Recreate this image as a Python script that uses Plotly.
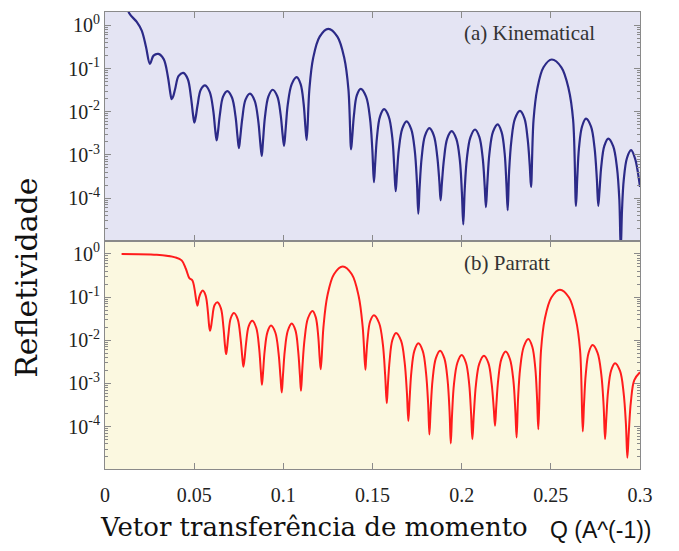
import numpy as np
import plotly.graph_objects as go

# ---------------- data ----------------
# Q in 1/Angstrom, reflectivity given as log10(R)
kin_q = [0.0115, 0.0136, 0.0178, 0.0206, 0.0230, 0.0252, 0.0272,
         0.0299, 0.0329, 0.0352, 0.0365, 0.0374, 0.0382, 0.0394, 0.0413,
         0.0439, 0.0464, 0.0482, 0.0494, 0.0501, 0.0508, 0.0519, 0.0537,
         0.0561, 0.0587, 0.0607, 0.0618, 0.0626, 0.0633, 0.0644, 0.0662,
         0.0686, 0.0712, 0.0732, 0.0743, 0.0751, 0.0758, 0.0770, 0.0788,
         0.0813, 0.0839, 0.0859, 0.0871, 0.0879, 0.0886, 0.0897, 0.0916,
         0.0940, 0.0966, 0.0985, 0.0996, 0.1004, 0.1013, 0.1025, 0.1047,
         0.1075, 0.1097, 0.1114, 0.1124, 0.1131, 0.1146, 0.1167, 0.1204,
         0.1252, 0.1303, 0.1342, 0.1365, 0.1380, 0.1386, 0.1396, 0.1412,
         0.1434, 0.1464, 0.1486, 0.1499, 0.1508, 0.1515, 0.1525, 0.1542,
         0.1565, 0.1591, 0.1611, 0.1622, 0.1630, 0.1637, 0.1648, 0.1667,
         0.1691, 0.1717, 0.1737, 0.1749, 0.1757, 0.1764, 0.1776, 0.1794,
         0.1819, 0.1844, 0.1863, 0.1875, 0.1882, 0.1889, 0.1901, 0.1919,
         0.1944, 0.1970, 0.1990, 0.2001, 0.2009, 0.2017, 0.2029, 0.2049,
         0.2075, 0.2099, 0.2118, 0.2129, 0.2136, 0.2144, 0.2156, 0.2176,
         0.2202, 0.2224, 0.2241, 0.2251, 0.2258, 0.2266, 0.2279, 0.2299,
         0.2327, 0.2352, 0.2370, 0.2382, 0.2389, 0.2403, 0.2424, 0.2459,
         0.2505, 0.2559, 0.2600, 0.2625, 0.2641, 0.2648, 0.2658, 0.2675,
         0.2697, 0.2725, 0.2745, 0.2758, 0.2766, 0.2773, 0.2783, 0.2800,
         0.2822, 0.2850, 0.2871, 0.2884, 0.2892, 0.2899, 0.2909, 0.2927,
         0.2950, 0.2972, 0.3000]
kin_log10R = [0.60, 0.28, 0.08, -0.12, -0.50, -0.89, -0.70,
              -0.66, -0.78, -1.17, -1.53, -1.71, -1.65, -1.46, -1.17,
              -1.10, -1.24, -1.66, -2.08, -2.25, -2.14, -1.85, -1.49,
              -1.39, -1.54, -1.97, -2.42, -2.66, -2.48, -2.07, -1.65,
              -1.52, -1.67, -2.11, -2.57, -2.84, -2.61, -2.15, -1.72,
              -1.58, -1.74, -2.20, -2.73, -3.02, -2.68, -2.12, -1.65,
              -1.49, -1.64, -2.07, -2.53, -2.79, -2.40, -1.83, -1.36,
              -1.20, -1.36, -1.82, -2.36, -2.65, -1.48, -0.76, -0.26,
              -0.08, -0.26, -0.76, -1.48, -2.87, -2.60, -2.08, -1.62,
              -1.47, -1.65, -2.15, -2.87, -3.63, -3.19, -2.59, -2.11,
              -1.94, -2.11, -2.60, -3.29, -3.84, -3.44, -2.86, -2.39,
              -2.22, -2.40, -2.90, -3.62, -4.36, -3.76, -3.05, -2.56,
              -2.38, -2.55, -3.03, -3.62, -4.05, -3.66, -3.09, -2.62,
              -2.45, -2.63, -3.13, -3.85, -4.61, -3.81, -3.09, -2.59,
              -2.41, -2.58, -3.07, -3.71, -4.21, -3.65, -2.95, -2.46,
              -2.29, -2.47, -2.96, -3.67, -4.28, -3.38, -2.66, -2.16,
              -1.98, -2.15, -2.63, -3.26, -3.74, -2.19, -1.47, -0.97,
              -0.79, -0.97, -1.47, -2.19, -4.18, -3.55, -2.83, -2.34,
              -2.16, -2.34, -2.83, -3.55, -4.18, -3.82, -3.26, -2.79,
              -2.62, -2.80, -3.30, -4.02, -5.20, -4.29, -3.57, -3.07,
              -2.89, -3.08, -3.74]

par_q = [0.0093, 0.0290, 0.0393, 0.0430, 0.0454, 0.0473, 0.0491,
         0.0518, 0.0527, 0.0536,
         0.0548, 0.0564, 0.0577, 0.0584, 0.0589, 0.0594, 0.0601, 0.0614,
         0.0630, 0.0650, 0.0664, 0.0673, 0.0679, 0.0684, 0.0692, 0.0705,
         0.0723, 0.0744, 0.0760, 0.0770, 0.0776, 0.0782, 0.0791, 0.0806,
         0.0826, 0.0848, 0.0864, 0.0874, 0.0880, 0.0886, 0.0895, 0.0911,
         0.0931, 0.0955, 0.0973, 0.0984, 0.0991, 0.0998, 0.1008, 0.1025,
         0.1047, 0.1068, 0.1083, 0.1093, 0.1099, 0.1107, 0.1119, 0.1138,
         0.1164, 0.1182, 0.1196, 0.1204, 0.1210, 0.1225, 0.1247, 0.1284,
         0.1333, 0.1384, 0.1422, 0.1445, 0.1460, 0.1464, 0.1472, 0.1487,
         0.1508, 0.1537, 0.1558, 0.1571, 0.1580, 0.1586, 0.1596, 0.1611,
         0.1632, 0.1660, 0.1680, 0.1693, 0.1701, 0.1708, 0.1718, 0.1735,
         0.1757, 0.1782, 0.1800, 0.1812, 0.1819, 0.1826, 0.1837, 0.1855,
         0.1879, 0.1903, 0.1921, 0.1932, 0.1939, 0.1946, 0.1957, 0.1976,
         0.2000, 0.2024, 0.2042, 0.2053, 0.2060, 0.2068, 0.2080, 0.2099,
         0.2125, 0.2150, 0.2168, 0.2180, 0.2187, 0.2194, 0.2205, 0.2223,
         0.2247, 0.2271, 0.2290, 0.2301, 0.2308, 0.2316, 0.2328, 0.2348,
         0.2374, 0.2396, 0.2413, 0.2423, 0.2430, 0.2445, 0.2466, 0.2503,
         0.2551, 0.2602, 0.2640, 0.2664, 0.2679, 0.2686, 0.2696, 0.2712,
         0.2734, 0.2762, 0.2783, 0.2796, 0.2804, 0.2811, 0.2821, 0.2838,
         0.2860, 0.2888, 0.2908, 0.2921, 0.2929, 0.2937, 0.2949, 0.2968,
         0.3000]
par_log10R = [0.00, -0.02, -0.08, -0.15, -0.35, -0.56, -0.62,
              -1.20, -1.02, -0.91,
              -0.85, -0.96, -1.34, -1.67, -1.78, -1.70, -1.50, -1.19,
              -1.12, -1.26, -1.69, -2.13, -2.32, -2.20, -1.87, -1.49,
              -1.37, -1.51, -1.95, -2.40, -2.61, -2.45, -2.07, -1.67,
              -1.55, -1.71, -2.17, -2.72, -3.03, -2.76, -2.26, -1.81,
              -1.66, -1.82, -2.29, -2.85, -3.21, -2.81, -2.25, -1.78,
              -1.61, -1.77, -2.24, -2.81, -3.17, -2.62, -1.98, -1.49,
              -1.32, -1.47, -1.92, -2.42, -2.67, -1.69, -0.97, -0.47,
              -0.29, -0.47, -0.97, -1.69, -2.68, -2.45, -1.99, -1.56,
              -1.42, -1.60, -2.09, -2.81, -3.46, -3.05, -2.47, -2.00,
              -1.83, -2.01, -2.50, -3.22, -3.87, -3.37, -2.73, -2.24,
              -2.07, -2.25, -2.75, -3.47, -4.18, -3.61, -2.91, -2.42,
              -2.24, -2.42, -2.92, -3.64, -4.39, -3.73, -3.01, -2.52,
              -2.34, -2.52, -3.01, -3.71, -4.29, -3.73, -3.03, -2.54,
              -2.36, -2.53, -3.00, -3.58, -3.98, -3.53, -2.91, -2.43,
              -2.26, -2.44, -2.93, -3.64, -4.25, -3.37, -2.65, -2.15,
              -1.97, -2.15, -2.65, -3.37, -4.06, -2.23, -1.51, -1.01,
              -0.83, -1.01, -1.51, -2.23, -4.11, -3.49, -2.78, -2.29,
              -2.11, -2.29, -2.79, -3.51, -4.29, -3.81, -3.18, -2.70,
              -2.53, -2.71, -3.21, -3.93, -4.72, -4.14, -3.42, -2.92,
              -2.74]

x_tick_vals = [0, 0.05, 0.1, 0.15, 0.2, 0.25, 0.3]
x_tick_text = ["0", "0.05", "0.1", "0.15", "0.2", "0.25", "0.3"]
y_tick_vals = [1, 1e-1, 1e-2, 1e-3, 1e-4]
y_tick_text = ["10<sup>0</sup>", "10<sup>-1</sup>", "10<sup>-2</sup>",
               "10<sup>-3</sup>", "10<sup>-4</sup>"]

panel_labels = ["(a) Kinematical", "(b) Parratt"]
x_title = "Vetor transferência de momento"
x_unit = "Q (A^(-1))"
y_title = "Refletividade"

# ---------------- figure ----------------
BLUE = "#2c2a88"
RED = "#ff1c1c"
FRAME = "#8a8a8a"
SERIF = "Liberation Serif, Times New Roman, serif"

fig = go.Figure()
fig.add_trace(go.Scatter(x=kin_q, y=10 ** np.array(kin_log10R), mode="lines",
                         line=dict(color=BLUE, width=2.2, shape="spline",
                                   smoothing=1.0),
                         xaxis="x", yaxis="y", showlegend=False))
fig.add_trace(go.Scatter(x=par_q, y=10 ** np.array(par_log10R), mode="lines",
                         line=dict(color=RED, width=2.0, shape="spline",
                                   smoothing=1.0),
                         xaxis="x2", yaxis="y2", showlegend=False))

xcommon = dict(range=[0, 0.3], tickvals=x_tick_vals, ticktext=x_tick_text,
               ticks="inside", ticklen=6, tickcolor=FRAME, mirror="allticks",
               showline=True, linecolor=FRAME, linewidth=1,
               showgrid=False, zeroline=False,
               tickfont=dict(family=SERIF, size=20, color="#222"))
ycommon = dict(type="log", range=[-4.98, 0.31], tickvals=y_tick_vals,
               ticktext=y_tick_text, ticks="inside", ticklen=6,
               tickcolor=FRAME, mirror="allticks", showline=True,
               linecolor=FRAME, linewidth=1, showgrid=False, zeroline=False,
               minor=dict(ticks="inside", ticklen=3, tickcolor=FRAME,
                          dtick="D1", showgrid=False),
               tickfont=dict(family=SERIF, size=20, color="#222"))

fig.update_layout(
    width=679, height=551,
    margin=dict(l=105, r=39, t=12, b=82),
    paper_bgcolor="white", plot_bgcolor="white",
    xaxis=dict(xcommon, domain=[0, 1], anchor="y", showticklabels=False),
    yaxis=dict(ycommon, domain=[0.5, 1], anchor="x"),
    xaxis2=dict(xcommon, domain=[0, 1], anchor="y2", ticklabelstandoff=8),
    yaxis2=dict(ycommon, domain=[0, 0.5], anchor="x2"),
    shapes=[
        dict(type="rect", xref="x domain", yref="y domain", x0=0, x1=1,
             y0=0, y1=1, fillcolor="#e4e4f3", line=dict(width=0),
             layer="below"),
        dict(type="rect", xref="x2 domain", yref="y2 domain", x0=0, x1=1,
             y0=0, y1=1, fillcolor="#fbf8e0", line=dict(width=0),
             layer="below"),
    ],
    annotations=[
        dict(text=panel_labels[0], xref="paper", yref="paper", x=0.667,
             y=0.953, xanchor="left", yanchor="middle", showarrow=False,
             font=dict(family=SERIF, size=21, color="#333")),
        dict(text=panel_labels[1], xref="paper", yref="paper", x=0.667,
             y=0.45, xanchor="left", yanchor="middle", showarrow=False,
             font=dict(family=SERIF, size=21, color="#333")),
        dict(text=y_title, xref="paper", yref="paper", x=-0.147, y=0.419,
             xanchor="center", yanchor="middle", textangle=-90,
             showarrow=False,
             font=dict(family="DejaVu Serif, serif", size=30, color="#111")),
        dict(text=x_title, xref="paper", yref="paper", x=0.39, y=-0.127,
             xanchor="center", yanchor="middle", showarrow=False,
             font=dict(family="DejaVu Serif, serif", size=26, color="#111")),
        dict(text=x_unit, xref="paper", yref="paper", x=0.927, y=-0.133,
             xanchor="center", yanchor="middle", showarrow=False,
             font=dict(family="Liberation Sans Narrow, Liberation Sans, sans-serif",
                       size=23, color="#111")),
    ],
)

fig.write_html("out.html")
